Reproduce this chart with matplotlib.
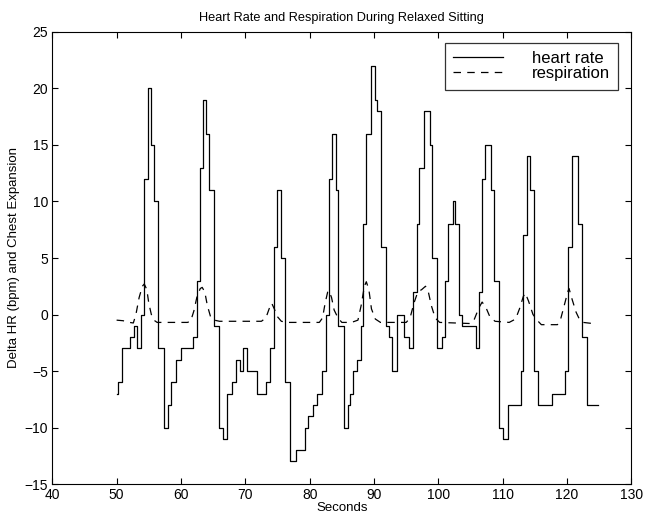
import matplotlib
matplotlib.use("Agg")
import matplotlib.pyplot as plt

# Heart rate: step start times (s) and values (delta bpm)
hr_t = [50.0, 50.15, 50.8, 52.1, 52.7, 53.2, 53.8, 54.3, 54.9, 55.3, 55.8, 56.4,
        57.3, 58.0, 58.5, 59.3, 60.0, 61.9, 62.5, 63.0, 63.5, 63.9, 64.4, 65.1,
        65.9, 66.5, 67.2, 67.9, 68.6, 69.2, 69.7, 70.3, 71.8, 73.2, 73.8, 74.4,
        75.0, 75.5, 76.2, 77.0, 77.9, 79.2, 79.8, 80.5, 81.2, 81.9, 82.5, 83.0,
        83.5, 84.05, 84.4, 85.35, 86.0, 86.3, 86.8, 87.4, 88.0, 88.3, 88.7, 89.5,
        90.1, 90.4, 91.1, 91.8, 92.3, 92.8, 93.6, 94.65, 95.4, 96.1, 96.6, 97.0,
        97.75, 98.7, 99.0, 99.8, 100.6, 101.1, 101.5, 102.2, 102.6, 103.2, 103.7,
        105.8, 106.3, 106.8, 107.3, 108.1, 108.6, 109.4, 110.1, 110.8, 112.8,
        113.2, 113.8, 114.3, 114.8, 115.5, 117.7, 119.6, 120.2, 120.7, 121.7,
        122.3, 123.1, 124.8]
hr_v = [-7, -6, -3, -2, -1, -3, 0, 12, 20, 15, 10, -3,
        -10, -8, -6, -4, -3, -2, 3, 13, 19, 16, 11, -1,
        -10, -11, -7, -6, -4, -5, -3, -5, -7, -6, -3, 6,
        11, 5, -6, -13, -12, -10, -9, -8, -7, -5, 0, 12,
        16, 11, -1, -10, -8, -7, -5, -4, -1, 8, 16, 22,
        19, 18, 6, -1, -2, -5, 0, -2, -3, 2, 8, 13,
        18, 15, 5, -3, -2, 3, 8, 10, 8, 0, -1,
        -3, 2, 12, 15, 11, 3, -10, -11, -8, -5,
        7, 14, 11, -5, -8, -7, -5, 6, 14,
        8, -2, -8, -8]

# Respiration (chest expansion)
resp_t = [50.0, 51.0, 52.0, 52.6, 53.0, 53.5, 54.0, 54.3, 54.7, 55.0, 55.4, 55.8,
          56.3, 57.0, 61.0, 61.5, 62.0, 62.5, 63.0, 63.3, 63.7, 64.1, 64.6, 65.2,
          66.0, 72.5, 73.2, 73.7, 74.1, 74.5, 75.0, 75.6, 76.5, 81.5, 82.0, 82.4,
          82.8, 83.0, 83.4, 83.8, 84.4, 85.0, 86.5, 87.5, 88.0, 88.5, 88.8, 89.2,
          89.6, 90.2, 91.0, 95.0, 95.6, 96.2, 96.8, 97.4, 98.0, 98.4, 98.9, 99.5,
          100.2, 105.0, 105.6, 106.3, 106.8, 107.4, 108.0, 108.8, 111.0, 112.0,
          112.6, 113.2, 113.5, 114.0, 114.7, 115.5, 116.0, 118.5, 119.0, 119.6,
          120.1, 120.3, 120.8, 121.4, 121.9, 122.5, 124.0]
resp_v = [-0.5, -0.55, -0.7, -0.75, 0.0, 1.5, 2.5, 2.7, 2.2, 1.0, 0.0, -0.5,
          -0.7, -0.7, -0.7, -0.6, 0.3, 1.6, 2.3, 2.4, 2.0, 0.8, -0.2, -0.5,
          -0.6, -0.6, -0.3, 0.5, 1.0, 0.5, -0.2, -0.6, -0.7, -0.7, -0.3, 1.0,
          2.0, 2.1, 1.5, 0.4, -0.3, -0.7, -0.7, -0.5, 0.8, 2.5, 2.9, 2.2,
          0.5, -0.4, -0.7, -0.7, -0.3, 1.0, 2.0, 2.2, 2.5, 2.1, 0.8, -0.3,
          -0.7, -0.8, -0.4, 0.6, 1.1, 0.6, -0.2, -0.6, -0.7, -0.4,
          0.5, 1.6, 1.9, 1.2, 0.0, -0.6, -0.9, -0.9, -0.4, 0.9,
          2.0, 2.3, 1.3, 0.2, -0.4, -0.7, -0.8]

x_ticks = [40, 50, 60, 70, 80, 90, 100, 110, 120, 130]
y_ticks = [-15, -10, -5, 0, 5, 10, 15, 20, 25]

plt.rcParams['font.family'] = ['Liberation Sans', 'DejaVu Sans']

fig = plt.figure(figsize=(6.45, 5.16), dpi=100)
ax = fig.add_axes([0.081, 0.062, 0.898, 0.876])

ax.plot(hr_t, hr_v, drawstyle='steps-post', color='black', linewidth=0.9,
        label='heart rate')
ax.plot(resp_t, resp_v, color='black', linewidth=0.9, linestyle=(0, (6, 5)),
        label='respiration')

ax.set_xlim(40, 130)
ax.set_ylim(-15, 25)
ax.set_xticks(x_ticks)
ax.set_yticks(y_ticks)
ax.tick_params(direction='in', top=True, right=True, length=4, width=0.8,
               labelsize=10, pad=3)
for s in ax.spines.values():
    s.set_linewidth(0.8)

ax.set_title('Heart Rate and Respiration During Relaxed Sitting', fontsize=9.2, pad=8)
ax.set_xlabel('Seconds', fontsize=9.5, labelpad=0)
ax.set_ylabel('Delta HR (bpm) and Chest Expansion', fontsize=9.5, labelpad=3)

leg = ax.legend(loc='upper right', bbox_to_anchor=(0.977, 0.976), fontsize=12,
                frameon=True, fancybox=False, handlelength=3.0, handletextpad=1.7,
                borderpad=0.5, labelspacing=0.0, borderaxespad=0)
leg.get_frame().set_edgecolor('black')
leg.get_frame().set_linewidth(0.9)

fig.savefig('out.png', dpi=100)
